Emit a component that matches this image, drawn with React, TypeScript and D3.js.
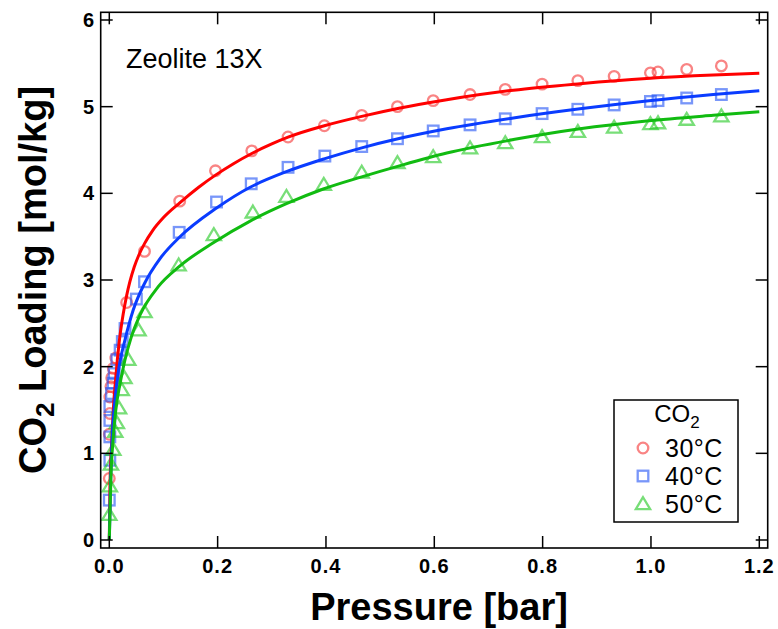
import React from "react";
import * as d3 from "d3";

// ---- data ----
const xTicks = [0, 0.2, 0.4, 0.6, 0.8, 1.0, 1.2];
const yTicks = [0, 1, 2, 3, 4, 5, 6];

const p30 = [0, 0, 0.001, 0.001, 0.003, 0.0044, 0.0074, 0.012, 0.032, 0.065, 0.13, 0.196, 0.263, 0.33, 0.397, 0.466, 0.532, 0.598, 0.666, 0.731, 0.799, 0.865, 0.932, 0.999, 1.013, 1.066, 1.13];
const q30 = [0.71, 1.22, 1.46, 1.65, 1.77, 1.87, 1.98, 2.1, 2.74, 3.33, 3.91, 4.26, 4.49, 4.65, 4.78, 4.9, 5.0, 5.07, 5.14, 5.2, 5.26, 5.3, 5.35, 5.39, 5.4, 5.43, 5.47];

const p40 = [0, 0.001, 0.001, 0.001, 0.001, 0.004, 0.007, 0.009, 0.014, 0.02, 0.024, 0.029, 0.05, 0.065, 0.129, 0.198, 0.262, 0.33, 0.398, 0.466, 0.532, 0.598, 0.666, 0.731, 0.799, 0.865, 0.932, 0.999, 1.013, 1.066, 1.13];
const q40 = [0.46, 0.92, 1.19, 1.38, 1.54, 1.69, 1.81, 1.92, 2.08, 2.19, 2.29, 2.44, 2.78, 2.98, 3.55, 3.9, 4.11, 4.3, 4.43, 4.54, 4.63, 4.72, 4.79, 4.86, 4.92, 4.97, 5.02, 5.06, 5.07, 5.1, 5.14];

const p50 = [0, 0.001, 0.003, 0.0074, 0.011, 0.014, 0.018, 0.023, 0.028, 0.035, 0.054, 0.065, 0.128, 0.193, 0.265, 0.327, 0.396, 0.466, 0.532, 0.598, 0.666, 0.731, 0.799, 0.865, 0.932, 0.999, 1.013, 1.066, 1.13];
const q50 = [0.29, 0.62, 0.87, 1.04, 1.25, 1.35, 1.52, 1.73, 1.87, 2.08, 2.42, 2.63, 3.17, 3.52, 3.78, 3.96, 4.1, 4.24, 4.35, 4.42, 4.52, 4.58, 4.65, 4.71, 4.76, 4.8, 4.81, 4.85, 4.89];

// fitted isotherm curves
const fitP30 = [0, 0.0013, 0.0044, 0.0074, 0.012, 0.018, 0.026, 0.032, 0.038, 0.046, 0.054, 0.065, 0.08, 0.1, 0.13, 0.165, 0.196, 0.23, 0.263, 0.3, 0.33, 0.397, 0.466, 0.537, 0.623, 0.746, 0.869, 0.992, 1.115, 1.2];
const fitQ30 = [0, 0.65, 1.12, 1.5, 1.88, 2.27, 2.62, 2.82, 2.98, 3.15, 3.28, 3.42, 3.57, 3.72, 3.89, 4.07, 4.21, 4.345, 4.46, 4.57, 4.648, 4.78, 4.888, 4.985, 5.08, 5.19, 5.265, 5.325, 5.365, 5.385];

const fitP40 = [0, 0.0026, 0.0056, 0.0105, 0.018, 0.029, 0.044, 0.065, 0.094, 0.129, 0.198, 0.26, 0.327, 0.398, 0.466, 0.537, 0.623, 0.746, 0.869, 0.992, 1.115, 1.2];
const fitQ40 = [0, 0.73, 1.23, 1.62, 2.0, 2.31, 2.65, 2.96, 3.25, 3.49, 3.83, 4.07, 4.25, 4.4, 4.525, 4.635, 4.745, 4.87, 4.975, 5.065, 5.14, 5.185];

const fitP50 = [0, 0.003, 0.0074, 0.012, 0.02, 0.029, 0.041, 0.057, 0.09, 0.13, 0.192, 0.26, 0.327, 0.395, 0.466, 0.537, 0.623, 0.746, 0.869, 0.992, 1.115, 1.2];
const fitQ50 = [0, 0.73, 1.19, 1.5, 1.81, 2.08, 2.35, 2.6, 2.92, 3.16, 3.43, 3.68, 3.88, 4.05, 4.19, 4.32, 4.465, 4.62, 4.745, 4.835, 4.9, 4.94];

const seriesNames = ["30°C", "40°C", "50°C"];

// ---- layout ----
const W = 778;
const H = 629;
const FONT = "'Liberation Sans', Arial, Helvetica, sans-serif";
const frame = { left: 100.7, right: 767.7, top: 12.3, bottom: 548 };
const TICK = 12;

const x = d3.scaleLinear().domain([0, 1.2]).range([109.3, 759.3]);
const y = d3.scaleLinear().domain([0, 6]).range([540, 20]);

const lineGen = d3
  .line<[number, number]>()
  .x((d) => x(d[0]))
  .y((d) => y(d[1]))
  .curve(d3.curveMonotoneX);

const zip = (a: number[], b: number[]) => a.map((v, i) => [v, b[i]] as [number, number]);

const markerColor = ["rgba(245,50,50,0.6)", "rgba(30,80,245,0.6)", "rgba(30,200,30,0.6)"];
const lineColor = ["#ff0000", "#0a3cff", "#11bb11"];

function Marker({ kind, cx, cy, color }: { kind: number; cx: number; cy: number; color: string }) {
  if (kind === 0) return <circle cx={cx} cy={cy} r={5.3} fill="none" stroke={color} strokeWidth={2.3} />;
  if (kind === 1)
    return <rect x={cx - 5.3} y={cy - 5.3} width={10.6} height={10.6} fill="none" stroke={color} strokeWidth={2.3} />;
  const s = 6.8;
  const pts = `${cx},${cy - s} ${cx - s * 1.05},${cy + s * 0.75} ${cx + s * 1.05},${cy + s * 0.75}`;
  return <polygon points={pts} fill="none" stroke={color} strokeWidth={2.3} strokeLinejoin="miter" />;
}

export default function App() {
  const data = [zip(p30, q30), zip(p40, q40), zip(p50, q50)];
  const fits = [zip(fitP30, fitQ30), zip(fitP40, fitQ40), zip(fitP50, fitQ50)];
  const legendX = 643;
  const legendY = [448, 476, 504];

  return (
    <svg
      width={W}
      height={H}
      style={{ position: "absolute", left: 0, top: 0, background: "#fff" }}
      fontFamily={FONT}
    >
      <rect x={0} y={0} width={W} height={H} fill="#fff" />

      {/* markers */}
      {data.map((ser, si) =>
        ser.map((d, i) => <Marker key={`m${si}-${i}`} kind={si} cx={x(d[0])} cy={y(d[1])} color={markerColor[si]} />)
      )}

      {/* fitted lines */}
      {fits.map((f, si) => (
        <path key={`l${si}`} d={lineGen(f) || ""} fill="none" stroke={lineColor[si]} strokeWidth={3} />
      ))}

      {/* frame */}
      <rect
        x={frame.left}
        y={frame.top}
        width={frame.right - frame.left}
        height={frame.bottom - frame.top}
        fill="none"
        stroke="#000"
        strokeWidth={1.6}
      />

      {/* ticks */}
      {xTicks.map((t) => (
        <g key={`xt${t}`}>
          <line x1={x(t)} x2={x(t)} y1={frame.bottom} y2={frame.bottom - TICK} stroke="#000" strokeWidth={1.5} />
          <line x1={x(t)} x2={x(t)} y1={frame.top} y2={frame.top + TICK} stroke="#000" strokeWidth={1.5} />
          <text x={x(t)} y={573} textAnchor="middle" fontSize={20} fontWeight="bold" letterSpacing={1}>
            {t.toFixed(1)}
          </text>
        </g>
      ))}
      {yTicks.map((t) => (
        <g key={`yt${t}`}>
          <line x1={frame.left} x2={frame.left + TICK} y1={y(t)} y2={y(t)} stroke="#000" strokeWidth={1.5} />
          <line x1={frame.right} x2={frame.right - TICK} y1={y(t)} y2={y(t)} stroke="#000" strokeWidth={1.5} />
          <text x={94} y={y(t) + 7} textAnchor="end" fontSize={20} fontWeight="bold">
            {t}
          </text>
        </g>
      ))}

      {/* axis titles */}
      <text x={439} y={620} textAnchor="middle" fontSize={38} fontWeight="bold">
        Pressure [bar]
      </text>
      <text transform="translate(46,280) rotate(-90)" textAnchor="middle" fontSize={38} fontWeight="bold">
        <tspan>CO</tspan>
        <tspan fontSize={26} dy={8}>2</tspan>
        <tspan dy={-8}> Loading [mol/kg]</tspan>
      </text>

      {/* annotation */}
      <text x={126} y={68} fontSize={27}>
        Zeolite 13X
      </text>

      {/* legend */}
      <rect x={614} y={400} width={124} height={122} fill="#fff" stroke="#000" strokeWidth={1.5} />
      <text x={677} y={422} textAnchor="middle" fontSize={24}>
        <tspan>CO</tspan>
        <tspan fontSize={17} dy={6}>2</tspan>
      </text>
      {seriesNames.map((name, i) => (
        <g key={`lg${i}`}>
          <Marker kind={i} cx={legendX} cy={legendY[i]} color={markerColor[i]} />
          <text x={665} y={legendY[i] + 8.5} fontSize={25} letterSpacing={0.5}>
            {name}
          </text>
        </g>
      ))}
    </svg>
  );
}
